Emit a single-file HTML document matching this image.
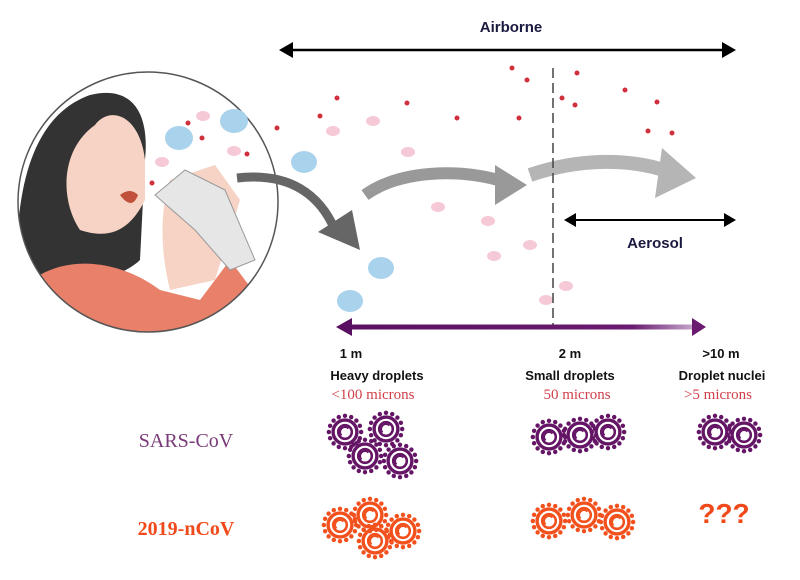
<!DOCTYPE html>
<html><head><meta charset="utf-8"><style>
body{margin:0;background:#fff}
svg{display:block}
text{font-family:"Liberation Sans",sans-serif}
.s{font-family:"Liberation Serif",serif}
</style></head><body>
<svg width="800" height="580" viewBox="0 0 800 580">
<defs>
<g id="v0">
<circle r="14" fill="none" stroke="currentColor" stroke-width="4"/>
<circle r="8" fill="none" stroke="currentColor" stroke-width="3"/>
<path d="M-4,4 A5,5 0 0 1 4,-4" stroke="currentColor" stroke-width="2" fill="none"/>
<g fill="currentColor">
<circle cx="19" cy="0" r="2.6"/><circle cx="-19" cy="0" r="2.6"/><circle cx="0" cy="19" r="2.6"/><circle cx="0" cy="-19" r="2.6"/>
<circle cx="13.4" cy="13.4" r="2.6"/><circle cx="-13.4" cy="13.4" r="2.6"/><circle cx="13.4" cy="-13.4" r="2.6"/><circle cx="-13.4" cy="-13.4" r="2.6"/>
<circle cx="17.5" cy="7.3" r="2.6"/><circle cx="-17.5" cy="7.3" r="2.6"/><circle cx="17.5" cy="-7.3" r="2.6"/><circle cx="-17.5" cy="-7.3" r="2.6"/>
<circle cx="7.3" cy="17.5" r="2.6"/><circle cx="-7.3" cy="17.5" r="2.6"/><circle cx="7.3" cy="-17.5" r="2.6"/><circle cx="-7.3" cy="-17.5" r="2.6"/>
</g></g>
<g id="v"><use href="#v0" transform="scale(0.85)"/></g>
<linearGradient id="pg" gradientUnits="userSpaceOnUse" x1="340" y1="0" x2="705" y2="0"><stop offset="0" stop-color="#5a1060"/><stop offset="0.8" stop-color="#6a1a70"/><stop offset="1" stop-color="#d8c0dc"/></linearGradient>
<clipPath id="cc"><circle cx="148" cy="202" r="130"/></clipPath>
</defs>
<g clip-path="url(#cc)">
<rect x="0" y="60" width="300" height="300" fill="#fff"/>
<path d="M20,330 C10,220 20,120 90,95 C130,85 150,110 145,160 L140,260 C120,280 60,290 20,330Z" fill="#333"/>
<path d="M95,125 C110,105 140,115 145,160 L145,200 C130,230 110,240 80,230 C60,200 60,150 95,125Z" fill="#f6d3c4"/>
<path d="M120,195 q10,-8 18,0 q-6,16 -18,0Z" fill="#c0503a"/>
<path d="M20,345 L20,290 C60,250 120,260 160,290 L200,300 L230,260 L260,300 L250,345Z" fill="#e8806a"/>
<path d="M170,180 L215,165 L240,200 L215,280 L170,290 C160,250 160,210 170,180Z" fill="#f6d3c4"/>
<path d="M155,195 L185,170 L225,190 L255,260 L230,270 L195,230Z" fill="#e6e6e6" stroke="#999"/>
</g>
<circle cx="148" cy="202" r="130" fill="none" stroke="#555" stroke-width="1.5"/>
<g fill="#a9d3ec">
<ellipse cx="179" cy="138" rx="14" ry="12"/><ellipse cx="234" cy="121" rx="14" ry="12"/><ellipse cx="304" cy="162" rx="13" ry="11"/><ellipse cx="381" cy="268" rx="13" ry="11"/><ellipse cx="350" cy="301" rx="13" ry="11"/></g>
<g fill="#f6c9d7">
<ellipse cx="203" cy="116" rx="7" ry="5"/><ellipse cx="234" cy="151" rx="7" ry="5"/><ellipse cx="162" cy="162" rx="7" ry="5"/><ellipse cx="333" cy="131" rx="7" ry="5"/><ellipse cx="373" cy="121" rx="7" ry="5"/><ellipse cx="408" cy="152" rx="7" ry="5"/><ellipse cx="438" cy="207" rx="7" ry="5"/><ellipse cx="488" cy="221" rx="7" ry="5"/><ellipse cx="530" cy="245" rx="7" ry="5"/><ellipse cx="494" cy="256" rx="7" ry="5"/><ellipse cx="566" cy="286" rx="7" ry="5"/><ellipse cx="546" cy="300" rx="7" ry="5"/></g>
<g fill="#d0303a">
<circle cx="188" cy="123" r="2.5"/><circle cx="202" cy="138" r="2.5"/><circle cx="247" cy="154" r="2.5"/><circle cx="152" cy="183" r="2.5"/><circle cx="277" cy="128" r="2.5"/><circle cx="337" cy="98" r="2.5"/><circle cx="320" cy="116" r="2.5"/><circle cx="407" cy="103" r="2.5"/><circle cx="457" cy="118" r="2.5"/><circle cx="512" cy="68" r="2.5"/><circle cx="527" cy="80" r="2.5"/><circle cx="562" cy="98" r="2.5"/><circle cx="575" cy="105" r="2.5"/><circle cx="519" cy="118" r="2.5"/><circle cx="577" cy="73" r="2.5"/><circle cx="625" cy="90" r="2.5"/><circle cx="657" cy="102" r="2.5"/><circle cx="648" cy="131" r="2.5"/><circle cx="672" cy="133" r="2.5"/></g>
<path d="M237,178 C290,172 320,195 335,230" stroke="#666" stroke-width="9" fill="none"/>
<path d="M318,232 L360,250 L352,210Z" fill="#666"/>
<path d="M365,195 C400,170 460,168 505,182" stroke="#999" stroke-width="12" fill="none"/>
<path d="M495,165 L527,185 L495,205Z" fill="#999"/>
<path d="M530,175 C580,158 630,158 670,172" stroke="#b5b5b5" stroke-width="14" fill="none"/>
<path d="M662,148 L696,178 L655,198Z" fill="#b5b5b5"/>
<line x1="553" y1="68" x2="553" y2="328" stroke="#444" stroke-width="1.5" stroke-dasharray="10,5"/>
<line x1="288" y1="50" x2="727" y2="50" stroke="#000" stroke-width="2.5"/>
<path d="M279,50 L293,42 L293,58Z M736,50 L722,42 L722,58Z" fill="#000"/>
<text x="511" y="32" font-size="15" font-weight="bold" fill="#1a1a40" text-anchor="middle">Airborne</text>
<line x1="572" y1="220" x2="727" y2="220" stroke="#000" stroke-width="2"/>
<path d="M564,220 L576,213 L576,227Z M736,220 L724,213 L724,227Z" fill="#000"/>
<text x="655" y="248" font-size="15" font-weight="bold" fill="#1a1a40" text-anchor="middle">Aerosol</text>
<rect x="345" y="324.5" width="350" height="5" fill="url(#pg)"/>
<path d="M336,327 L352,318 L352,336Z" fill="#5a1060"/><path d="M706,327 L692,318 L692,336Z" fill="#6a1a70"/>
<g font-size="13" font-weight="bold" fill="#111" text-anchor="middle">
<text x="351" y="358">1 m</text><text x="570" y="358">2 m</text><text x="721" y="358">&gt;10 m</text>
<text x="377" y="380">Heavy droplets</text><text x="570" y="380">Small droplets</text><text x="722" y="380">Droplet nuclei</text></g>
<g font-size="15" fill="#d0404a" text-anchor="middle">
<text x="373" y="399" class="s">&lt;100 microns</text><text x="577" y="399" class="s">50 microns</text><text x="718" y="399" class="s">&gt;5 microns</text></g>
<text x="186" y="447" class="s" font-size="20" fill="#7a3a78" text-anchor="middle">SARS-CoV</text>
<text x="186" y="535" class="s" font-size="20" font-weight="bold" fill="#f04a1a" text-anchor="middle">2019-nCoV</text>
<text x="724" y="523" font-size="28" font-weight="bold" fill="#f04a1a" text-anchor="middle">???</text>
<g color="#651565">
<use href="#v" x="345" y="432"/><use href="#v" x="386" y="429"/><use href="#v" x="365" y="456"/><use href="#v" x="400" y="461"/>
<use href="#v" x="549" y="437"/><use href="#v" x="580" y="435"/><use href="#v" x="608" y="432"/>
<use href="#v" x="715" y="432"/><use href="#v" x="744" y="435"/></g>
<g color="#f2501c">
<use href="#v" x="340" y="525"/><use href="#v" x="370" y="515"/><use href="#v" x="375" y="541"/><use href="#v" x="403" y="531"/>
<use href="#v" x="549" y="521"/><use href="#v" x="584" y="515"/><use href="#v" x="617" y="522"/></g>
</svg>
</body></html>
